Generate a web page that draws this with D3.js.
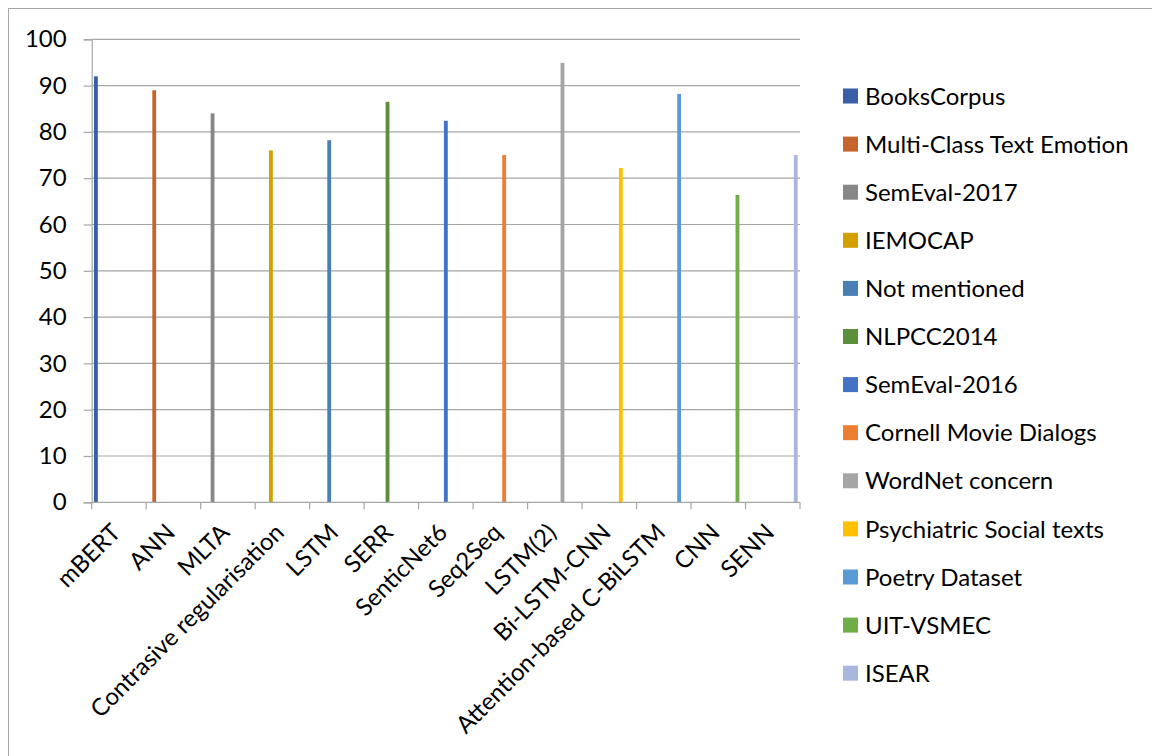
<!DOCTYPE html>
<html>
<head>
<meta charset="utf-8">
<script src="https://cdn.jsdelivr.net/npm/d3@7"></script>
<style>
  body { margin: 0; background: #fff; }
  svg { display: block; font-family: Lato, "Open Sans", sans-serif; }
</style>
</head>
<body>
<script>
// categories on the x axis, one dataset (series) per category
var categories = ['mBERT', 'ANN', 'MLTA', 'Contrasive regularisation', 'LSTM', 'SERR',
  'SenticNet6', 'Seq2Seq', 'LSTM(2)', 'Bi-LSTM-CNN', 'Attention-based C-BiLSTM', 'CNN', 'SENN'];
var seriesNames = ['BooksCorpus', 'Multi-Class Text Emotion', 'SemEval-2017', 'IEMOCAP',
  'Not mentioned', 'NLPCC2014', 'SemEval-2016', 'Cornell Movie Dialogs', 'WordNet concern',
  'Psychiatric Social texts', 'Poetry Dataset', 'UIT-VSMEC', 'ISEAR'];
var values = [92, 89, 84, 76, 78.2, 86.5, 82.4, 75, 94.9, 72.2, 88.2, 66.4, 75];
var colors = ['#3b5ea8', '#c5652d', '#878787', '#d4a000', '#4a7fb5', '#5b8f3c', '#4472c4',
  '#ed7d31', '#a5a5a5', '#ffc000', '#5b9bd5', '#70ad47', '#a9b7de'];
var yTicks = [0, 10, 20, 30, 40, 50, 60, 70, 80, 90, 100];

var width = 1152, height = 756;
var plotLeft = 91.7, plotRight = 800, plotTop = 39.3, plotBottom = 502.3;
var fontSize = 24;

var svg = d3.select('body').append('svg').attr('width', width).attr('height', height);

// chart border
svg.append('rect').attr('x', 8.5).attr('y', 8.5).attr('width', 1200).attr('height', 800)
  .attr('fill', 'none').attr('stroke', '#a6a6a6').attr('stroke-width', 1);

var x0 = d3.scaleBand().domain(categories).range([plotLeft, plotRight]).padding(0);
var x1 = d3.scaleBand().domain(seriesNames).range([0, x0.bandwidth()])
  .paddingInner(0).paddingOuter(0.6);
var y = d3.scaleLinear().domain([0, 100]).range([plotBottom, plotTop]);

// gridlines
svg.append('g').selectAll('line').data(yTicks.slice(1)).enter().append('line')
  .attr('x1', plotLeft).attr('x2', plotRight)
  .attr('y1', function (d) { return y(d); }).attr('y2', function (d) { return y(d); })
  .attr('stroke', '#a6a6a6').attr('stroke-width', 1.2);

// y axis
var yAxis = svg.append('g').attr('transform', 'translate(' + plotLeft + ',0)')
  .call(d3.axisLeft(y).tickValues(yTicks).tickSize(8).tickPadding(17));
yAxis.select('.domain').attr('stroke', '#a6a6a6').attr('stroke-width', 1.2);
yAxis.selectAll('.tick line').attr('stroke', '#a6a6a6').attr('stroke-width', 1.2);
yAxis.selectAll('.tick text').attr('font-size', fontSize).attr('fill', '#000')
  .attr('font-family', 'Lato, "Open Sans", sans-serif');

// bars
svg.append('g').selectAll('rect').data(categories).enter().append('rect')
  .attr('x', function (d, i) { return x0(d) + x1(seriesNames[i]); })
  .attr('width', x1.bandwidth())
  .attr('y', function (d, i) { return y(values[i]); })
  .attr('height', function (d, i) { return y(0) - y(values[i]); })
  .attr('fill', function (d, i) { return colors[i]; });

// x axis: line and ticks at category boundaries
var xg = svg.append('g');
xg.append('line').attr('x1', plotLeft).attr('x2', plotRight)
  .attr('y1', plotBottom).attr('y2', plotBottom)
  .attr('stroke', '#a6a6a6').attr('stroke-width', 1.2);
var bounds = categories.map(function (c) { return x0(c); }).concat([plotRight]);
xg.selectAll('line.tk').data(bounds).enter().append('line').attr('class', 'tk')
  .attr('x1', function (d) { return d; }).attr('x2', function (d) { return d; })
  .attr('y1', plotBottom).attr('y2', plotBottom + 7)
  .attr('stroke', '#a6a6a6').attr('stroke-width', 1.2);
xg.selectAll('text').data(categories).enter().append('text')
  .attr('transform', function (d) {
    return 'translate(' + (x0(d) + x0.bandwidth() / 2 + 3) + ',' + 534 + ') rotate(-45)';
  })
  .attr('text-anchor', 'end').attr('font-size', fontSize).attr('fill', '#000')
  .text(function (d) { return d; });

// legend
var lg = svg.append('g').selectAll('g').data(seriesNames).enter().append('g')
  .attr('transform', function (d, i) { return 'translate(843,' + (96 + i * 48.1) + ')'; });
lg.append('rect').attr('x', 0).attr('y', -7.5).attr('width', 15).attr('height', 15)
  .attr('fill', function (d, i) { return colors[i]; });
lg.append('text').attr('x', 22).attr('dy', '0.36em').attr('font-size', fontSize).attr('fill', '#000')
  .text(function (d) { return d; });
</script>
</body>
</html>
